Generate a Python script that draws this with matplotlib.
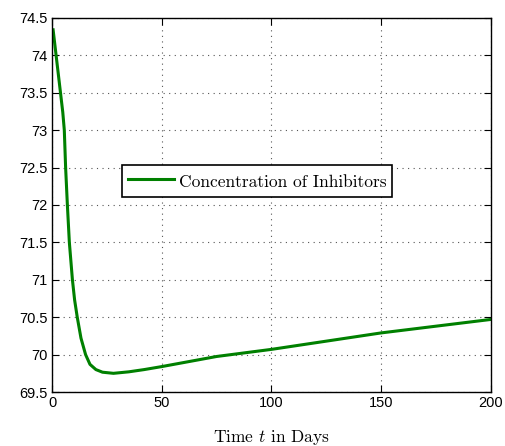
import matplotlib
matplotlib.use("Agg")
import matplotlib.pyplot as plt

# inhibitor concentration over time
days = [0.5, 4.9, 5.6, 6.2, 7.0, 7.9, 9.3, 10.3, 11.5, 13.2, 15.3, 17.3, 20.0,
        23.0, 28.0, 35.0, 42.0, 50.0, 75.0, 100.0, 125.0, 150.0, 175.0, 200.0]
inhibitors = [74.34, 73.24, 73.0, 72.5, 72.0, 71.5, 71.0, 70.73, 70.5, 70.22,
              70.0, 69.87, 69.80, 69.765, 69.75, 69.77, 69.80, 69.84, 69.975,
              70.07, 70.18, 70.29, 70.38, 70.47]

x_ticks = [0, 50, 100, 150, 200]
y_ticks = [69.5, 70, 70.5, 71, 71.5, 72, 72.5, 73, 73.5, 74, 74.5]
y_labels = ["69.5", "70", "70.5", "71", "71.5", "72", "72.5", "73", "73.5", "74", "74.5"]

plt.rcParams['font.family'] = ['Liberation Sans', 'DejaVu Sans']
plt.rcParams['mathtext.fontset'] = 'cm'

fig = plt.figure(figsize=(5.05, 4.46), dpi=100)
ax = fig.add_axes([0.103, 0.121, 0.869, 0.839])

ax.plot(days, inhibitors, color=(0, 0.5, 0), lw=2.2,
        label='Concentration of Inhibitors')

ax.set_xlim(0, 200)
ax.set_ylim(69.5, 74.5)
ax.set_xticks(x_ticks)
ax.set_yticks(y_ticks)
ax.set_yticklabels(y_labels)
ax.tick_params(direction='in', length=5, width=0.8, top=True, right=True,
               labelsize=10.5, pad=3)
ax.grid(True, linestyle=(0, (1, 4)), color='#555555', linewidth=0.8)
for s in ax.spines.values():
    s.set_linewidth(1.0)

ax.set_xlabel('Time $t$ in Days', fontsize=12.5, fontfamily='cmr10', labelpad=13)

leg = ax.legend(loc='center', bbox_to_anchor=(0.467, 0.564),
                prop={'family': 'cmr10', 'size': 12.5},
                fancybox=False, framealpha=1, edgecolor='black',
                handlelength=2.7, handletextpad=0.25, borderpad=0.3,
                handleheight=1.5, borderaxespad=0)
leg.get_frame().set_linewidth(1.2)

fig.savefig("out.png", dpi=100)
